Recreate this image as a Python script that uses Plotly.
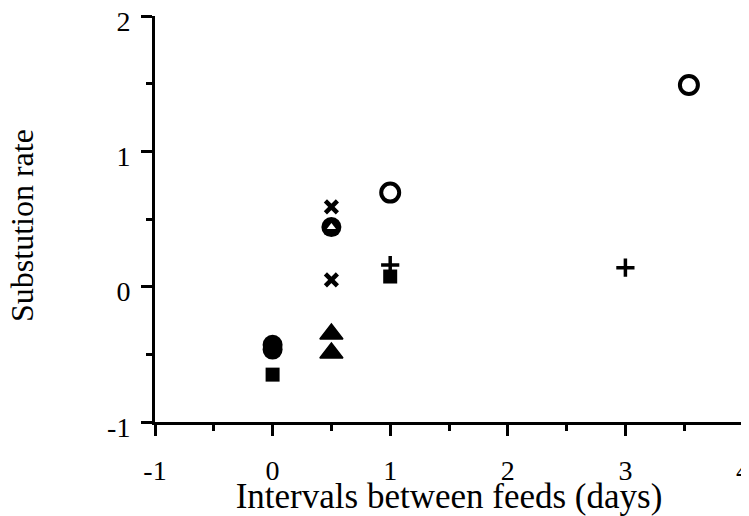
import plotly.graph_objects as go

# Data
filled_circle_x = [0, 0]
filled_circle_y = [-0.43, -0.465]
filled_square_x = [0, 1]
filled_square_y = [-0.65, 0.075]
cross_x = [0.5, 0.5]
cross_y = [0.59, 0.05]
open_circle_x = [1, 3.54]
open_circle_y = [0.695, 1.49]
circle_triangle_x = [0.5]
circle_triangle_y = [0.44]
filled_triangle_x = [0.5, 0.5]
filled_triangle_y = [-0.35, -0.49]
plus_x = [1, 3]
plus_y = [0.16, 0.14]

x_ticks = [-1, 0, 1, 2, 3, 4]
y_ticks = [-1, 0, 1, 2]

x_title = "Intervals between feeds (days)"
y_title = "Substution rate"

FONT = "Liberation Serif"
fig = go.Figure()

fig.add_trace(go.Scatter(x=filled_circle_x, y=filled_circle_y, mode="markers",
                         marker=dict(symbol="circle", size=20, color="black")))
fig.add_trace(go.Scatter(x=filled_square_x, y=filled_square_y, mode="markers",
                         marker=dict(symbol="square", size=14, color="black")))
fig.add_trace(go.Scatter(x=cross_x, y=cross_y, mode="markers",
                         marker=dict(symbol="x-thin", size=12, color="black",
                                     line=dict(width=4.5, color="black"))))
fig.add_trace(go.Scatter(x=open_circle_x, y=open_circle_y, mode="markers",
                         marker=dict(symbol="circle-open", size=18, color="black",
                                     line=dict(width=4, color="black"))))
fig.add_trace(go.Scatter(x=circle_triangle_x, y=circle_triangle_y, mode="markers",
                         marker=dict(symbol="circle", size=20, color="black")))
fig.add_trace(go.Scatter(x=circle_triangle_x, y=circle_triangle_y, mode="markers",
                         marker=dict(symbol="triangle-up", size=8, color="white",
                                     line=dict(width=0))))
fig.add_trace(go.Scatter(x=filled_triangle_x, y=filled_triangle_y, mode="markers",
                         marker=dict(symbol="triangle-up", size=20, color="black",
                                     line=dict(width=1.5, color="black"))))
fig.add_trace(go.Scatter(x=plus_x, y=plus_y, mode="markers",
                         marker=dict(symbol="cross-thin", size=13, color="black",
                                     line=dict(width=3.5, color="black"))))

axis_common = dict(
    showgrid=False, zeroline=False, showline=True, linecolor="black", linewidth=3,
    ticks="outside", ticklen=11, tickwidth=3, tickcolor="black",
    tickfont=dict(family=FONT, size=28, color="black"),
    minor=dict(ticks="outside", ticklen=6, tickwidth=3, tickcolor="black", dtick=0.5),
    automargin=False, ticklabeloverflow="allow",
)

fig.update_xaxes(range=[-1, 4], tickvals=x_ticks, ticktext=[str(v) for v in x_ticks],
                 title=dict(text=x_title,
                            font=dict(family=FONT, size=35, color="black"), standoff=6),
                 ticklabelstandoff=10,
                 **axis_common)
fig.update_yaxes(range=[-1, 2], tickvals=y_ticks, ticktext=[str(v) for v in y_ticks],
                 ticklabelstandoff=5, ticklabelshift=5,
                 **axis_common)

# Y axis title as a rotated annotation for precise placement
fig.add_annotation(text=y_title, textangle=-90, showarrow=False,
                   xref="paper", yref="paper", x=-0.226, y=0.483,
                   xanchor="center", yanchor="middle",
                   font=dict(family=FONT, size=32, color="black"))

# The page body has an 8px margin, so the figure is sized to fit the window.
fig.update_layout(
    width=741, height=508,
    margin=dict(l=147, r=6, t=8, b=94),
    plot_bgcolor="white", paper_bgcolor="white",
    showlegend=False,
)

fig.write_html("out.html")
